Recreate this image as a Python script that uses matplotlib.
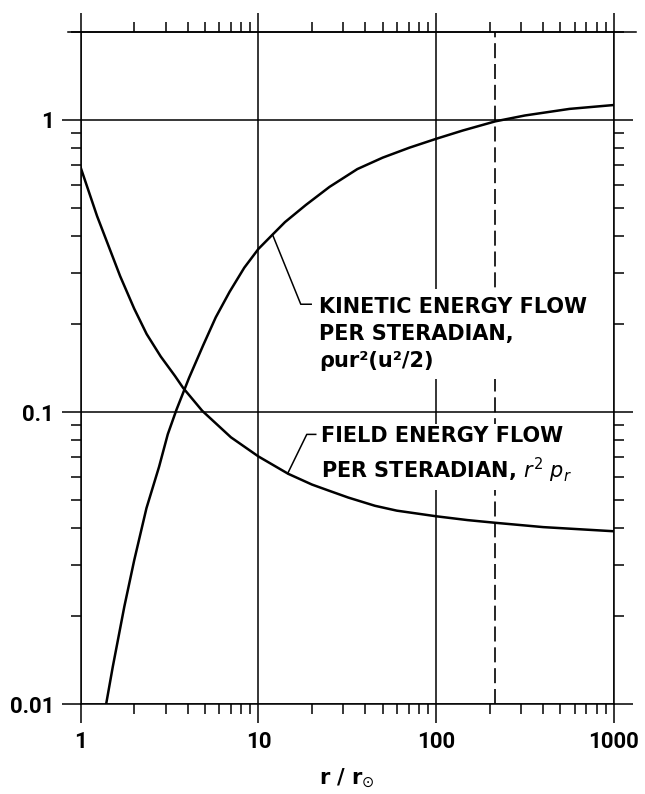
import numpy as np
import matplotlib
matplotlib.use("Agg")
import matplotlib.pyplot as plt
from matplotlib.ticker import FixedLocator, LogLocator, NullFormatter

# kinetic energy flow per steradian, rho u r^2 (u^2/2)
kin_r = [1.39, 1.514, 1.76, 2.0, 2.344, 2.76, 3.09, 3.46, 4.07, 4.88, 5.75, 6.88, 8.32, 10,
         12, 14.1, 18.5, 25.1, 36, 50, 70.8, 100, 141, 215, 316, 562, 1000]
kin_v = [0.0100, 0.0134, 0.0216, 0.0311, 0.0469, 0.065, 0.084, 0.102, 0.131, 0.169, 0.211, 0.258, 0.312, 0.362,
         0.405, 0.447, 0.512, 0.59, 0.679, 0.743, 0.804, 0.862, 0.92, 0.989, 1.036, 1.091, 1.125]

# field energy flow per steradian, r^2 p_r
fld_r = [1.0, 1.236, 1.667, 2.0, 2.35, 2.82, 3.39, 3.77, 4.83, 7.0, 10, 14.7, 20, 25, 32, 45.2,
         60, 100, 150, 215, 400, 1000]
fld_v = [0.687, 0.469, 0.292, 0.226, 0.185, 0.155, 0.133, 0.121, 0.101, 0.082, 0.0705, 0.0615, 0.0565,
         0.0538, 0.0510, 0.0478, 0.0460, 0.0440, 0.0427, 0.0418, 0.0404, 0.0391]

x_ticks = [1, 10, 100, 1000]
x_labels = ['1', '10', '100', '1000']
y_ticks = [0.01, 0.1, 1]
y_labels = ['0.01', '0.1', '1']
r_earth = 215  # 1 AU in solar radii

FS = 15
plt.rcParams['font.family'] = ['DejaVu Sans']
plt.rcParams['mathtext.fontset'] = 'dejavusans'

fig = plt.figure(figsize=(6.45, 7.94), dpi=100)
ax = fig.add_axes([0.1251, 0.1130, 0.8268, 0.8467])
ax.set_xscale('log')
ax.set_yscale('log')
ax.set_xlim(1, 1000)
ax.set_ylim(0.01, 2)

# curves sit above the white label boxes, grid and dashed line below them
ax.plot(kin_r, kin_v, color='k', lw=1.8, solid_joinstyle='round', zorder=4.5)
ax.plot(fld_r, fld_v, color='k', lw=1.8, solid_joinstyle='round', zorder=4.5)
ax.axvline(r_earth, color='k', lw=1.2, dashes=(9, 3.5), zorder=2)

ax.xaxis.set_major_locator(FixedLocator(x_ticks))
ax.yaxis.set_major_locator(FixedLocator(y_ticks))
ax.xaxis.set_minor_locator(LogLocator(base=10, subs=np.arange(2, 10)))
ax.yaxis.set_minor_locator(LogLocator(base=10, subs=np.arange(2, 10)))
ax.xaxis.set_minor_formatter(NullFormatter())
ax.yaxis.set_minor_formatter(NullFormatter())
tick_font = dict(fontsize=16, fontweight='bold', family=['Roboto', 'DejaVu Sans'])
ax.set_xticklabels(x_labels, **tick_font)
ax.set_yticklabels(y_labels, **tick_font)

ax.grid(True, which='major', color='k', lw=1.1)
for s in ax.spines.values():
    s.set_linewidth(1.1)
ax.tick_params(which='both', direction='out', top=True, right=True,
               labeltop=False, labelright=False, width=1.1, color='k')
ax.tick_params(which='major', length=14, pad=5)
ax.tick_params(which='minor', length=7.5)

# top border runs a little past the corners
ax.plot([-0.024, 1.041], [1, 1], transform=ax.transAxes, clip_on=False, color='k', lw=1.1)

ax.set_xlabel(r'r / r$_{\odot}$', fontsize=FS, fontweight='bold', labelpad=10)

box = dict(facecolor='white', edgecolor='none', pad=6)

# leaders and labels
ky = np.interp(np.log10(12), np.log10(kin_r), np.log10(kin_v))
ax.plot([12, 17.3, 19.8], [10 ** ky, 0.234, 0.234], color='k', lw=1.1, zorder=5)
ax.text(21.9, 0.247, 'KINETIC ENERGY FLOW\nPER STERADIAN,\nρur²(u²/2)',
        fontsize=FS, fontweight='bold', va='top', ha='left',
        linespacing=1.42, bbox=box, zorder=4)

fy = np.interp(np.log10(14.6), np.log10(fld_r), np.log10(fld_v))
ax.plot([14.6, 18.7, 21.0], [10 ** fy, 0.0839, 0.0839], color='k', lw=1.1, zorder=5)
ax.text(22.4, 0.0893, 'FIELD ENERGY FLOW\nPER STERADIAN, $r^2\\ p_r$',
        fontsize=FS, fontweight='bold', va='top', ha='left',
        linespacing=1.4, bbox=dict(facecolor='white', edgecolor='none', pad=4), zorder=4)

fig.savefig('out.png', dpi=100)
